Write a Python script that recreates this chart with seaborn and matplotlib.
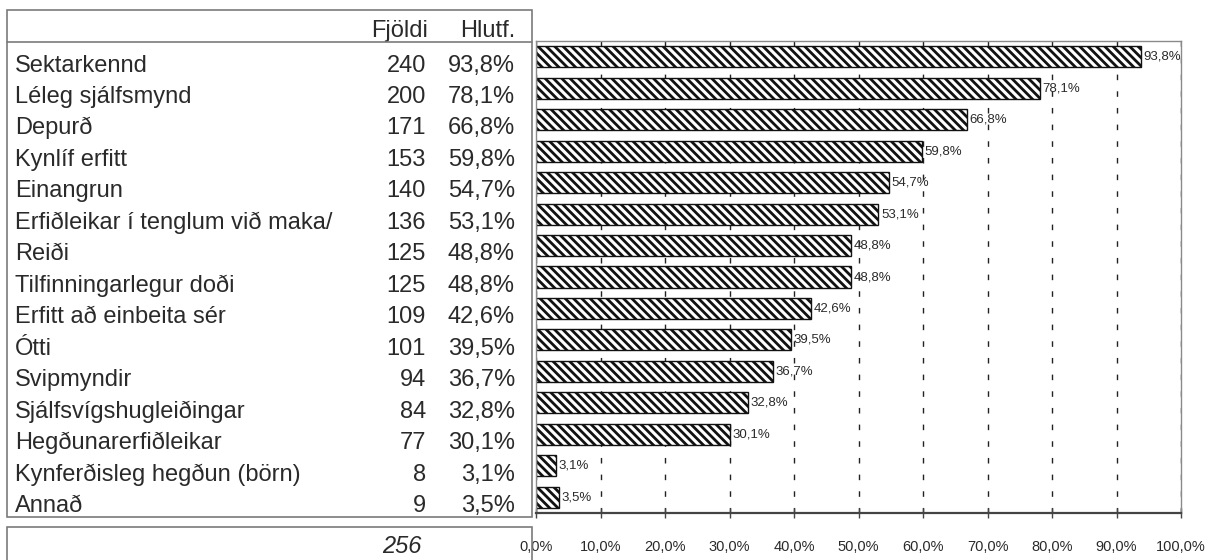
import numpy as np
import pandas as pd
import matplotlib
matplotlib.use("Agg")
import matplotlib.pyplot as plt
from matplotlib.patches import Rectangle
from matplotlib.lines import Line2D
import seaborn as sns

# ---- data ----
labels = ["Sektarkennd", "Léleg sjálfsmynd", "Depurð", "Kynlíf erfitt", "Einangrun",
          "Erfiðleikar í tenglum við maka/", "Reiði", "Tilfinningarlegur doði",
          "Erfitt að einbeita sér", "Ótti", "Svipmyndir", "Sjálfsvígshugleiðingar",
          "Hegðunarerfiðleikar", "Kynferðisleg hegðun (börn)", "Annað"]
counts = [240, 200, 171, 153, 140, 136, 125, 125, 109, 101, 94, 84, 77, 8, 9]
percents = [93.8, 78.1, 66.8, 59.8, 54.7, 53.1, 48.8, 48.8, 42.6, 39.5, 36.7, 32.8, 30.1, 3.1, 3.5]
total = 256
col_headers = ["Fjöldi", "Hlutf."]
xticks = [0, 10, 20, 30, 40, 50, 60, 70, 80, 90, 100]


def fmt(v):
    return f"{v:.1f}%".replace(".", ",")


sns.set_theme(style="white")
plt.rcParams["font.family"] = ["Liberation Sans", "DejaVu Sans"]
plt.rcParams["hatch.linewidth"] = 2.0
plt.rcParams["hatch.color"] = "#111111"

W, H = 1212, 560
fig = plt.figure(figsize=(W / 100, H / 100), dpi=100)
fig.patch.set_facecolor("white")


def fx(px):
    return px / W


def fy(py):
    return 1 - py / H


TXT = "#2a2a2a"
BORDER = "#7a7a7a"

# ---- chart ----
ax = fig.add_axes([fx(536), fy(513), fx(1181) - fx(536), fy(41) - fy(513)])
df = pd.DataFrame({"label": labels, "pct": percents})
sns.barplot(data=df, x="pct", y="label", orient="h", color="white", saturation=1,
            edgecolor="#111111", linewidth=1.0, width=0.67, hatch="\\\\\\\\", ax=ax)
ax.set_xlim(0, 100)
ax.set_ylim(14.5, -0.5)
ax.set_xticks(xticks)
ax.set_xticklabels([fmt(v) for v in xticks])
ax.set_xlabel("")
ax.set_ylabel("")
ax.tick_params(axis="y", left=False, labelleft=False)
ax.tick_params(axis="x", direction="inout", length=7, width=1, color="#444444",
               pad=16, labelsize=10.5, labelcolor=TXT, bottom=True)
ax.set_axisbelow(True)
ax.xaxis.grid(True, color="#222222", linewidth=1.0, linestyle=(0, (4, 8)))
for s in ["top", "right", "left"]:
    ax.spines[s].set_color("#8a8a8a")
    ax.spines[s].set_linewidth(1.0)
ax.spines["bottom"].set_color("#444444")
ax.spines["bottom"].set_linewidth(1.6)
ax.bar_label(ax.containers[0], labels=[fmt(p) for p in percents], padding=2,
             fontsize=9.5, color=TXT)

# ---- table ----
tax = fig.add_axes([fx(7), fy(513), fx(532) - fx(7), fy(41) - fy(513)])
tax.set_xlim(7, 532)
tax.set_ylim(14.5, -0.5)
tax.axis("off")
FS = 17
for i, (lab, c, p) in enumerate(zip(labels, counts, percents)):
    tax.text(15, i + 0.47, lab, ha="left", va="baseline", fontsize=FS, color=TXT)
    tax.text(426, i + 0.47, str(c), ha="right", va="baseline", fontsize=FS, color=TXT)
    tax.text(515, i + 0.47, fmt(p), ha="right", va="baseline", fontsize=FS, color=TXT)
tax.text(428, -0.63, col_headers[0], ha="right", va="baseline", fontsize=FS, color=TXT)
tax.text(515, -0.63, col_headers[1], ha="right", va="baseline", fontsize=FS, color=TXT)

fig.add_artist(Rectangle((fx(7), fy(517)), fx(532) - fx(7), fy(10) - fy(517),
                         transform=fig.transFigure, fill=False, ec=BORDER, lw=1.2))
fig.add_artist(Line2D([fx(7), fx(532)], [fy(42), fy(42)], transform=fig.transFigure,
                      color=BORDER, lw=1.2))
fig.add_artist(Rectangle((fx(7), fy(575)), fx(532) - fx(7), fy(527) - fy(575),
                         transform=fig.transFigure, fill=False, ec=BORDER, lw=1.2))
fig.text(fx(422), fy(553), str(total), ha="right", va="baseline", fontsize=FS,
         style="italic", color=TXT)

fig.savefig("out.png", dpi=100, facecolor="white")
